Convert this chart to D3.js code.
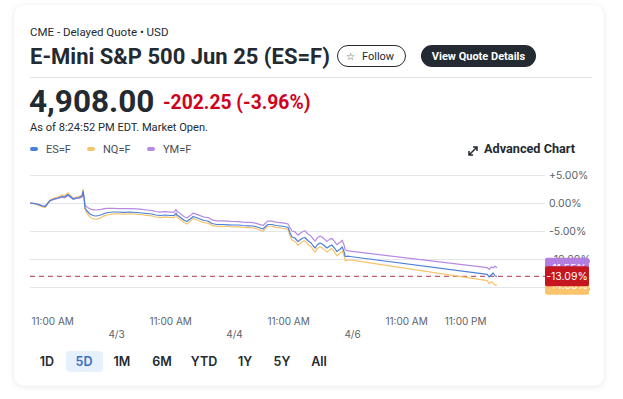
<!DOCTYPE html>
<html><head><meta charset="utf-8">
<script src="https://cdn.jsdelivr.net/npm/d3@7/dist/d3.min.js"></script>
<style>
html,body{margin:0;padding:0;background:#fff;}
svg{display:block;}
text{font-family:Roboto,"Noto Sans",sans-serif;}
</style></head>
<body>
<svg id="chart" width="623" height="399"></svg>
<script>
const hours = [6.5,7.3,8.1,9.0,9.6,10.0,10.6,11.4,12.2,13.0,
13.6,14.2,14.6,15.3,15.9,16.5,17.1,17.3,17.5,17.7,
18.1,18.7,19.3,19.9,20.5,21.2,21.6,22.4,23.4,24.4,
25.6,26.9,28.1,29.3,30.3,31.3,32.1,33.0,34.0,35.0,
35.8,36.2,36.4,37.0,37.8,38.4,39.1,39.7,40.3,41.1,
41.9,42.7,43.5,44.5,45.6,46.8,47.8,48.8,49.8,50.8,
51.9,52.7,53.3,53.9,54.5,54.9,55.7,56.5,57.4,58.2,
59.0,59.4,59.8,60.4,61.0,61.4,62.0,62.4,63.1,63.7,
64.1,64.5,64.9,65.5,66.1,66.9,67.5,67.9,68.5,68.9,
69.6,70.0,70.4,70.6,71.2,71.6,99.5,99.9,100.3,100.7,
101.1,101.5];
const esValues = [0.00,-0.09,-0.27,-0.54,-0.63,-0.18,0.45,0.71,0.89,1.16,
1.07,1.52,1.25,0.71,0.89,0.98,1.25,2.14,0.89,-0.89,
-1.43,-1.96,-2.23,-2.32,-2.23,-2.05,-1.88,-1.70,-1.61,-1.61,
-1.66,-1.61,-1.70,-1.79,-1.88,-1.96,-2.14,-2.23,-2.14,-2.23,
-2.23,-1.79,-2.14,-2.50,-3.04,-3.30,-2.86,-2.41,-2.59,-2.86,
-3.13,-3.21,-3.66,-3.84,-3.84,-3.89,-3.93,-3.93,-4.02,-4.07,
-4.11,-4.29,-4.46,-4.64,-4.11,-3.84,-3.84,-4.02,-4.11,-4.20,
-4.38,-5.36,-6.07,-6.25,-6.88,-6.61,-6.25,-6.16,-6.79,-7.14,
-7.68,-8.04,-7.50,-7.14,-7.41,-8.04,-7.68,-7.50,-8.13,-8.66,
-8.21,-7.86,-8.75,-9.55,-9.50,-9.55,-12.73,-13.21,-12.86,-12.50,
-13.04,-13.09];
const ymValues = [0.00,-0.05,-0.20,-0.45,-0.50,-0.15,0.40,0.62,0.80,1.02,
0.95,1.35,1.12,0.66,0.80,0.88,1.10,1.90,0.85,-0.40,
-0.70,-1.05,-1.20,-1.25,-1.20,-1.10,-1.00,-0.95,-0.95,-1.00,
-1.02,-1.00,-1.05,-1.15,-1.25,-1.35,-1.52,-1.62,-1.55,-1.62,
-1.62,-1.15,-1.50,-1.85,-2.40,-2.68,-2.25,-1.80,-1.98,-2.25,
-2.50,-2.60,-3.00,-3.18,-3.20,-3.25,-3.30,-3.32,-3.40,-3.45,
-3.50,-3.68,-3.85,-4.02,-3.50,-3.22,-3.25,-3.42,-3.50,-3.60,
-3.75,-4.45,-5.00,-5.15,-5.75,-5.45,-5.10,-4.95,-5.60,-5.95,
-6.45,-6.80,-6.25,-5.90,-6.20,-6.85,-6.45,-6.30,-6.95,-7.45,
-7.00,-6.65,-7.55,-8.35,-8.55,-8.60,-11.55,-11.85,-11.40,-11.60,
-11.30,-11.55];
const nqValues = [0.00,-0.12,-0.35,-0.70,-0.80,-0.25,0.55,0.88,1.10,1.40,
1.30,1.85,1.50,0.85,1.05,1.15,1.45,2.45,1.00,-1.20,
-1.85,-2.50,-2.80,-2.90,-2.75,-2.50,-2.30,-2.10,-1.95,-1.92,
-1.98,-1.92,-2.00,-2.10,-2.20,-2.30,-2.50,-2.60,-2.48,-2.58,
-2.60,-2.10,-2.50,-2.90,-3.45,-3.75,-3.25,-2.75,-2.95,-3.25,
-3.50,-3.58,-4.00,-4.18,-4.15,-4.20,-4.25,-4.25,-4.35,-4.40,
-4.45,-4.65,-4.85,-5.05,-4.45,-4.15,-4.15,-4.35,-4.45,-4.55,
-4.75,-5.85,-6.65,-6.85,-7.55,-7.25,-6.85,-6.75,-7.45,-7.85,
-8.40,-8.75,-8.15,-7.80,-8.10,-8.75,-8.35,-8.15,-8.85,-9.40,
-8.95,-8.55,-9.50,-10.35,-10.15,-10.15,-13.85,-14.45,-14.05,-14.30,
-14.70,-14.60];
const seriesNames = ["ES=F","NQ=F","YM=F"];
const yTicks = [5, 0, -5, -10, -15];
const timeTickHours = [11, 35, 59, 83, 95];
const timeTickLabels = ["11:00 AM","11:00 AM","11:00 AM","11:00 AM","11:00 PM"];
const dateTickHours = [24, 48, 72];
const dateTickLabels = ["4/3","4/4","4/6"];
const rangeButtons = ["1D","5D","1M","6M","YTD","1Y","5Y","All"];
const dashedValue = -13.09;

const colors = {"ES=F":"#4a80d8","NQ=F":"#f6c46e","YM=F":"#b48ae2"};
const labelColors = {"ES=F":"#c5161f","NQ=F":"#f9c46c","YM=F":"#b27fe0"};

const svg = d3.select("#chart");
const defs = svg.append("defs");
const f = defs.append("filter").attr("id","sh").attr("x","-5%").attr("y","-5%").attr("width","110%").attr("height","110%");
f.append("feDropShadow").attr("dx",0).attr("dy",1).attr("stdDeviation",3).attr("flood-color","#000").attr("flood-opacity",0.10);

svg.append("rect").attr("x",14.5).attr("y",5.5).attr("width",589).attr("height",380).attr("rx",9)
  .attr("fill","#fff").attr("filter","url(#sh)");

// header
svg.append("text").attr("x",30).attr("y",36).attr("font-size",11.5).attr("fill","#232a31").text("CME - Delayed Quote • USD");
svg.append("text").attr("x",30).attr("y",64).attr("font-size",22).attr("font-weight",700).attr("fill","#232a31").text("E-Mini S&P 500 Jun 25 (ES=F)");
const fb = svg.append("g");
fb.append("rect").attr("x",337.5).attr("y",45.5).attr("width",68).attr("height",21).attr("rx",10.5).attr("fill","#fff").attr("stroke","#232a31").attr("stroke-width",1);
fb.append("text").attr("x",350).attr("y",60).attr("font-size",10).attr("text-anchor","middle").attr("fill","#232a31").text("☆");
fb.append("text").attr("x",362).attr("y",60).attr("font-size",11).attr("fill","#232a31").text("Follow");
svg.append("rect").attr("x",421).attr("y",45).attr("width",115).attr("height",22).attr("rx",11).attr("fill","#232a31");
svg.append("text").attr("x",478.5).attr("y",60).attr("font-size",11).attr("font-weight",700).attr("text-anchor","middle").attr("fill","#fff").text("View Quote Details");
svg.append("line").attr("x1",30).attr("x2",592).attr("y1",77.5).attr("y2",77.5).attr("stroke","#e0e4e9");

svg.append("text").attr("x",29).attr("y",112).attr("font-size",31.5).attr("font-weight",700).attr("fill","#232a31").text("4,908.00");
svg.append("text").attr("x",163).attr("y",109).attr("font-size",19.3).attr("font-weight",700).attr("fill","#d0021b").text("-202.25 (-3.96%)");
svg.append("text").attr("x",30).attr("y",131).attr("font-size",11.1).attr("fill","#232a31").text("As of 8:24:52 PM EDT. Market Open.");

// legend
const legX = [30, 87, 147];
seriesNames.forEach((n,i)=>{
  svg.append("rect").attr("x",legX[i]).attr("y",147).attr("width",8).attr("height",4).attr("rx",2).attr("fill",colors[n]);
  svg.append("text").attr("x",legX[i]+16).attr("y",153).attr("font-size",11).attr("fill","#464e56").text(n);
});
svg.append("path").attr("d","M469,155 L477,147 M473,147 L477,147 L477,151 M469,151 L469,155 L473,155")
  .attr("stroke","#232a31").attr("stroke-width",1.5).attr("fill","none");
svg.append("text").attr("x",484).attr("y",153).attr("font-size",12.7).attr("font-weight",700).attr("fill","#232a31").text("Advanced Chart");

// scales
const x = d3.scaleLinear().domain([6.5, 111.25]).range([30, 545]);
const y = d3.scaleLinear().domain([5, -15]).range([175, 287]);

// grid
svg.append("g").selectAll("line").data(yTicks).join("line")
  .attr("x1",30).attr("x2",545).attr("y1",d=>Math.round(y(d))+0.5).attr("y2",d=>Math.round(y(d))+0.5)
  .attr("stroke","#e3e6ea");

// y axis labels
const yAxis = d3.axisRight(y).tickValues(yTicks).tickSize(0).tickPadding(4)
  .tickFormat(d=>(d>0?"+":"")+d.toFixed(2)+"%");
const ya = svg.append("g").attr("transform","translate(545,0)").call(yAxis);
ya.select(".domain").remove();
ya.selectAll("text").attr("font-size",10.5).attr("fill","#5b636a").style("font-family","Inter,Roboto,sans-serif");

// x axis
const xa1 = svg.append("g").attr("transform","translate(0,318)")
  .call(d3.axisBottom(x).tickValues(timeTickHours).tickSize(0).tickPadding(0).tickFormat((d,i)=>timeTickLabels[i]));
const xa2 = svg.append("g").attr("transform","translate(0,331)")
  .call(d3.axisBottom(x).tickValues(dateTickHours).tickSize(0).tickPadding(0).tickFormat((d,i)=>dateTickLabels[i]));
[xa1,xa2].forEach(a=>{a.select(".domain").remove();
  a.selectAll("text").attr("font-size",10).attr("fill","#5b636a").style("font-family","Inter,Roboto,sans-serif");});

// dashed line
svg.append("line").attr("x1",30).attr("x2",545).attr("y1",y(dashedValue)).attr("y2",y(dashedValue))
  .attr("stroke","#b0354a").attr("stroke-width",1).attr("stroke-dasharray","5,4");

// lines
const dataBy = {"ES=F":esValues,"NQ=F":nqValues,"YM=F":ymValues};
const line = d3.line().x((d,i)=>x(hours[i])).y(d=>y(d));
["NQ=F","YM=F","ES=F"].forEach(n=>{
  svg.append("path").datum(dataBy[n]).attr("d",line).attr("fill","none")
    .attr("stroke",colors[n]).attr("stroke-width",1.2).attr("stroke-linejoin","round");
});

// last value labels
["YM=F","NQ=F","ES=F"].forEach(n=>{
  const v = dataBy[n][dataBy[n].length-1];
  const g = svg.append("g").attr("transform",`translate(545,${y(v)})`);
  g.append("rect").attr("x",0).attr("y",-10).attr("width",44).attr("height",20).attr("rx",2).attr("fill",labelColors[n]);
  g.append("text").attr("x",22).attr("y",4).attr("text-anchor","middle").attr("font-size",10.5).attr("fill","#fff")
    .style("font-family","Inter,Roboto,sans-serif").text(v.toFixed(2)+"%");
});

// range buttons
const btnX = [47, 84, 122, 162, 204, 245, 282, 319];
rangeButtons.forEach((b,i)=>{
  if(b==="5D") svg.append("rect").attr("x",66).attr("y",351).attr("width",37).attr("height",21).attr("rx",4).attr("fill","#e6f1fd");
  svg.append("text").attr("x",btnX[i]).attr("y",366).attr("text-anchor","middle").attr("font-size",12.5).attr("font-weight",600)
    .attr("fill",b==="5D"?"#3b6fc4":"#232a31").style("font-family","Inter,Roboto,sans-serif").text(b);
});
</script>
</body></html>
